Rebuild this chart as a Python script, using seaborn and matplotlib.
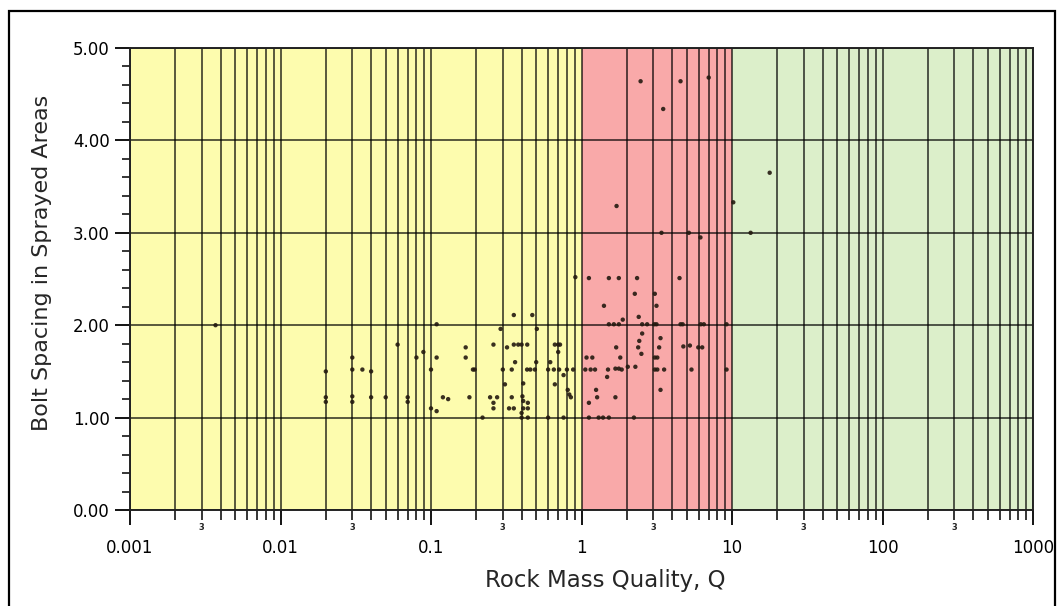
import math
import matplotlib
matplotlib.use("Agg")
import matplotlib.pyplot as plt
import seaborn as sns
import pandas as pd
from matplotlib.ticker import FixedLocator, FuncFormatter
from matplotlib.patches import Rectangle

# ---------------- data ----------------
rock_q = [
    0.0037,
    0.02, 0.02, 0.02,
    0.03, 0.03, 0.03, 0.03, 0.035,
    0.04, 0.04, 0.05, 0.06, 0.07, 0.07,
    0.08, 0.089, 0.1, 0.1, 0.109, 0.109, 0.109,
    0.12, 0.13, 0.17, 0.17, 0.18, 0.19, 0.195, 0.22,
    0.26, 0.29, 0.30, 0.31, 0.247, 0.275, 0.26, 0.26, 0.32,
    0.33, 0.355, 0.344, 0.344, 0.355, 0.355, 0.38, 0.362,
    0.40, 0.436, 0.471, 0.505, 0.50, 0.435, 0.457, 0.49,
    0.41, 0.405, 0.41, 0.44, 0.44, 0.41, 0.40, 0.40, 0.44,
    0.60, 0.76, 0.665, 0.70, 0.72, 0.70, 0.62,
    0.60, 0.655, 0.71, 0.80, 0.76, 0.665, 0.81, 0.83, 0.85, 0.88, 0.91,
    # red zone
    1.06, 1.15, 1.23, 1.08, 1.18, 1.25, 1.27, 1.12,
    1.12, 1.30, 1.39, 1.52, 1.41, 1.52, 1.64, 1.77, 1.88, 1.70,
    1.50, 1.68, 1.77, 1.85, 1.48, 1.68, 1.81, 2.03, 2.28, 2.40, 3.15,
    2.53, 2.73, 3.05, 3.15, 4.55, 4.70, 6.2, 6.5, 9.2,
    2.53, 3.35, 2.42, 2.38, 3.28, 4.75, 5.25, 5.97, 6.34, 2.50,
    3.07, 3.19, 3.07, 3.19, 3.54, 5.38, 9.2, 3.35, 2.23,
    1.71, 3.40, 5.17, 6.17, 1.12, 1.52, 1.77, 2.34, 4.48, 2.26, 3.07,
    2.47, 4.55, 7.0, 3.49,
    # green zone
    10.2, 13.3, 17.8,
]
bolt_spacing = [
    2.00,
    1.50, 1.22, 1.17,
    1.65, 1.52, 1.23, 1.17, 1.52,
    1.50, 1.22, 1.22, 1.79, 1.22, 1.17,
    1.65, 1.71, 1.52, 1.10, 2.01, 1.65, 1.07,
    1.22, 1.20, 1.76, 1.65, 1.22, 1.52, 1.52, 1.00,
    1.79, 1.96, 1.52, 1.36, 1.22, 1.22, 1.16, 1.10, 1.76,
    1.10, 1.10, 1.52, 1.22, 2.11, 1.79, 1.79, 1.60,
    1.79, 1.79, 2.11, 1.96, 1.60, 1.52, 1.52, 1.52,
    1.37, 1.23, 1.18, 1.16, 1.10, 1.10, 1.05, 1.00, 1.00,
    1.00, 1.00, 1.79, 1.79, 1.79, 1.71, 1.60,
    1.52, 1.52, 1.52, 1.52, 1.46, 1.36, 1.30, 1.25, 1.22, 1.52, 2.52,
    # red zone
    1.52, 1.52, 1.52, 1.65, 1.65, 1.30, 1.22, 1.16,
    1.00, 1.00, 1.00, 1.00, 2.21, 2.01, 2.01, 2.01, 2.06, 1.76,
    1.52, 1.53, 1.53, 1.52, 1.44, 1.22, 1.65, 1.55, 1.55, 2.09, 2.21,
    2.01, 2.01, 2.01, 2.01, 2.01, 2.01, 2.01, 2.01, 2.01,
    1.91, 1.86, 1.83, 1.76, 1.76, 1.77, 1.78, 1.76, 1.76, 1.69,
    1.65, 1.65, 1.52, 1.52, 1.52, 1.52, 1.52, 1.30, 1.00,
    3.29, 3.00, 3.00, 2.95, 2.51, 2.51, 2.51, 2.51, 2.51, 2.34, 2.34,
    4.64, 4.64, 4.68, 4.34,
    # green zone
    3.33, 3.00, 3.65,
]

zone_edges = [0.001, 1, 10, 1000]
zone_colors = ["#fdfcae", "#f9a9a9", "#dcefca"]
x_major = [0.001, 0.01, 0.1, 1, 10, 100, 1000]
x_major_labels = ["0.001", "0.01", "0.1", "1", "10", "100", "1000"]
y_major = [0, 1, 2, 3, 4, 5]

df = pd.DataFrame({"Q": rock_q, "spacing": bolt_spacing})

# ---------------- style ----------------
sns.set_style("ticks")
plt.rcParams["font.family"] = ["DejaVu Sans"]

fig = plt.figure(figsize=(10.62, 6.06), dpi=100)
ax = fig.add_axes([130 / 1062, 1 - 510 / 606, (1033 - 130) / 1062, (510 - 48) / 606])

for lo, hi, c in zip(zone_edges[:-1], zone_edges[1:], zone_colors):
    ax.axvspan(lo, hi, color=c, lw=0, zorder=0)

sns.scatterplot(data=df, x="Q", y="spacing", ax=ax, s=10, color="#241a10",
                edgecolor="none", alpha=0.9, zorder=5, legend=False)

ax.set_xscale("log")
ax.set_xlim(zone_edges[0], zone_edges[-1])
ax.set_ylim(y_major[0], y_major[-1])


def minor_label(v, pos):
    d = 10 ** math.floor(math.log10(v) + 1e-9)
    return "3" if abs(v / d - 3) < 1e-6 else ""


ax.xaxis.set_major_locator(FixedLocator(x_major))
ax.set_xticklabels(x_major_labels)
minor_x = [k * d for d in x_major[:-1] for k in range(2, 10)]
ax.xaxis.set_minor_locator(FixedLocator(minor_x))
ax.xaxis.set_minor_formatter(FuncFormatter(minor_label))

ax.yaxis.set_major_locator(FixedLocator(y_major))
ax.set_yticklabels([f"{v:.2f}" for v in y_major])
ax.yaxis.set_minor_locator(FixedLocator([i * 0.2 for i in range(26)]))

ax.set_axisbelow(True)
ax.xaxis.grid(True, which="both", color="black", alpha=0.7, lw=1.3)
ax.yaxis.grid(True, which="major", color="black", alpha=0.7, lw=1.3)

ax.tick_params(axis="both", which="major", direction="out", length=11, width=1.3,
               labelsize=12, colors="black")
ax.tick_params(axis="y", which="minor", direction="out", length=6, width=1.3)
ax.tick_params(axis="x", which="minor", direction="out", length=7, width=1.3,
               labelsize=6, pad=2)
for lab in ax.xaxis.get_minorticklabels():
    lab.set_fontweight("bold")
ax.tick_params(axis="x", which="major", pad=10)

for sp in ax.spines.values():
    sp.set_color("#222222")
    sp.set_linewidth(1.4)

ax.set_xlabel("Rock Mass Quality, Q", fontsize=16.5, labelpad=7)
ax.xaxis.set_label_coords(0.526, -0.128)
ax.set_ylabel("Bolt Spacing in Sprayed Areas", fontsize=16, labelpad=12)
ax.yaxis.set_label_coords(-0.086, 0.535)

fig.patches.append(Rectangle((9 / 1062, -0.02), 1 - 16 / 1062, 1 - 11 / 606 + 0.02,
                             transform=fig.transFigure, fill=False,
                             edgecolor="black", lw=1.6))

fig.savefig("out.png", dpi=100)
